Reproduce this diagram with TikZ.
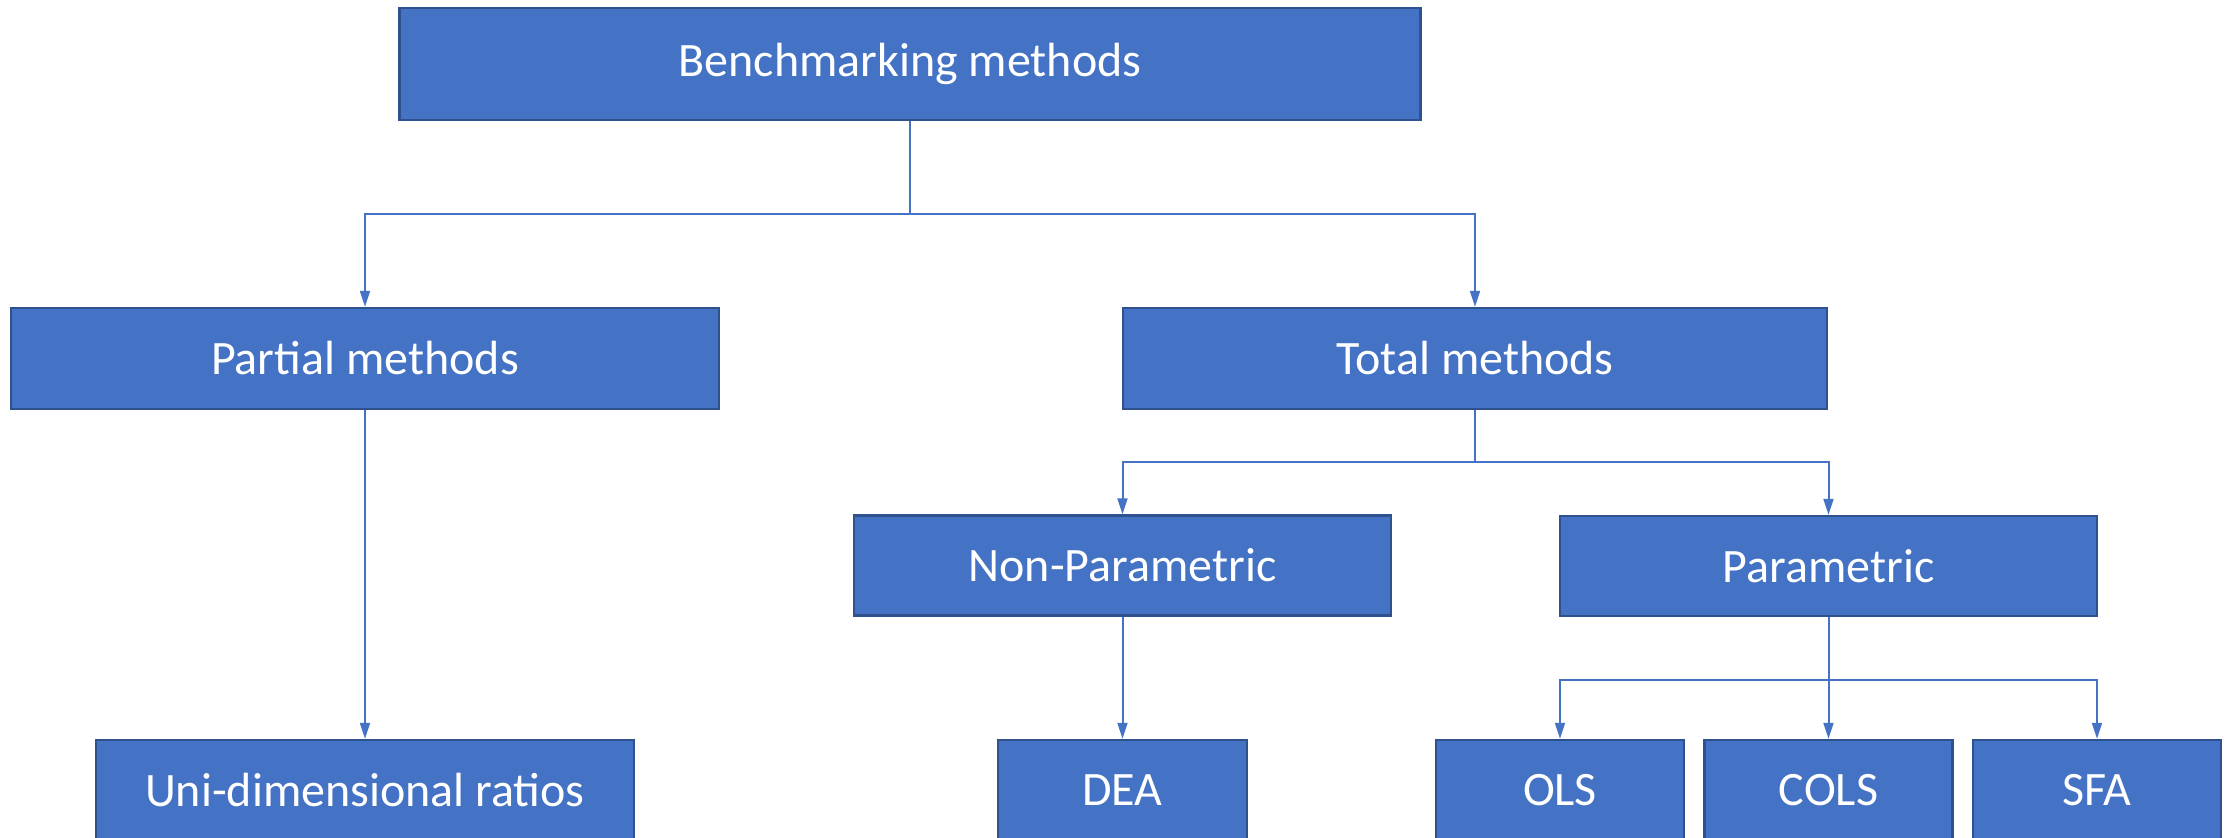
\documentclass[tikz,border=0pt]{standalone}
\usepackage{fontspec}
\setmainfont{Carlito}
\usetikzlibrary{arrows.meta}
\definecolor{boxblue}{HTML}{4472C4}
\definecolor{boxedge}{HTML}{2F528F}
\definecolor{linkblue}{HTML}{4472C4}
\tikzset{
  box/.style={rectangle, fill=boxblue, draw=boxedge, line width=1.2pt, inner sep=0pt,
    text=white, font=\fontsize{24}{28}\selectfont, minimum height=50.5pt},
  link/.style={draw=linkblue, line width=1pt},
  arr/.style={link, -{Triangle[width=5pt,length=8pt]}}
}
\begin{document}
\begin{tikzpicture}[x=0.5pt,y=-0.5pt]
\useasboundingbox (0,0) rectangle (2235,838);
\clip (0,0) rectangle (2235,838);
% nodes
\node[box, minimum width=510.5pt, minimum height=56pt] (top) at (910,64) {Benchmarking methods};
\node[box, minimum width=354pt] (partial) at (365,358.5) {Partial methods};
\node[box, minimum width=352pt] (total) at (1475,358.5) {Total methods};
\node[box, minimum width=268.5pt, minimum height=50pt] (nonpar) at (1122.5,565.5) {Non-Parametric};
\node[box, minimum width=268.5pt, minimum height=50pt] (par) at (1828.5,566) {Parametric};
\node[box, minimum width=269pt, minimum height=50pt] (uni) at (365,790) {Uni-dimensional ratios};
\node[box, minimum width=124.5pt, minimum height=50pt] (dea) at (1122.5,790) {DEA};
\node[box, minimum width=124pt, minimum height=50pt] (ols) at (1560,790) {OLS};
\node[box, minimum width=124pt, minimum height=50pt] (cols) at (1828.5,790) {COLS};
\node[box, minimum width=124pt, minimum height=50pt] (sfa) at (2097,790) {SFA};
% junctions
\coordinate (j1) at (910,214);
\coordinate (j2) at (1475,462);
\coordinate (j3) at (1828.5,680);
% connectors
\draw[link] (top.south) -- (j1);
\draw[arr] (j1) -| (partial.north);
\draw[arr] (j1) -| (total.north);
\draw[arr] (partial.south) -- (uni.north);
\draw[link] (total.south) -- (j2);
\draw[arr] (j2) -| (nonpar.north);
\draw[arr] (j2) -| (par.north);
\draw[arr] (nonpar.south) -- (dea.north);
\draw[link] (par.south) -- (j3);
\draw[arr] (j3) -| (ols.north);
\draw[arr] (j3) -- (cols.north);
\draw[arr] (j3) -| (sfa.north);
\end{tikzpicture}
\end{document}
